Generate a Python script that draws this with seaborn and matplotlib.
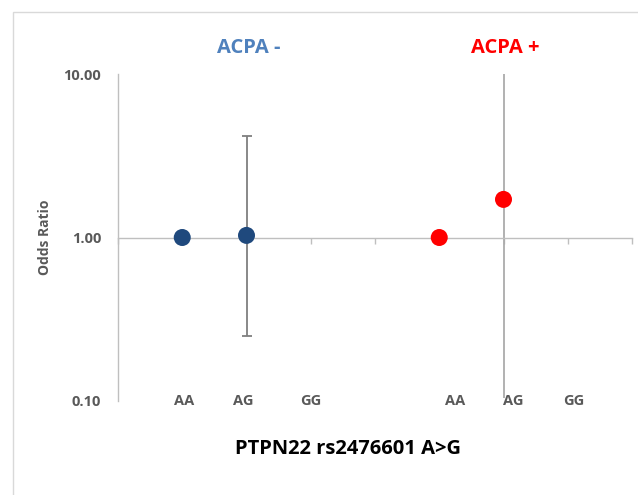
import matplotlib
matplotlib.use("Agg")
import matplotlib.pyplot as plt
from matplotlib.patches import Rectangle
import seaborn as sns
import pandas as pd
import numpy as np

# ---- data ----
groups = ["ACPA -", "ACPA -", "ACPA +", "ACPA +"]
genotypes = ["AA", "AG", "AA", "AG"]
x_pos = [1, 2, 5, 6]
odds_ratio = [1.00, 1.03, 1.00, 1.71]
ci_low = [1.00, 0.25, 1.00, 0.105]
ci_high = [1.00, 4.20, 1.00, 10.5]

cat_labels = ["AA", "AG", "GG", "AA", "AG", "GG"]
cat_label_pos = [1, 2, 3, 5, 6, 7]
y_ticks = [0.1, 1, 10]
y_tick_labels = ["0.10", "1.00", "10.00"]

df = pd.DataFrame({"group": groups, "genotype": genotypes, "x": x_pos,
                   "OR": odds_ratio, "lo": ci_low, "hi": ci_high})

sns.set_theme(style="white")
plt.rcParams["font.family"] = ["Open Sans", "DejaVu Sans"]

fig = plt.figure(figsize=(6.38, 4.95), dpi=100)
ax = fig.add_axes([118/638, 1-401/495, (632-118)/638, (401-74)/495])

# outer frame
fig.patches.append(Rectangle((13/638, -0.2), 1.2, 1.2 - 12/495,
                             transform=fig.transFigure, fill=False,
                             edgecolor="#D9D9D9", linewidth=1.0))

palette = {"ACPA -": "#1F497D", "ACPA +": "#FF0000"}
err_colors = {"ACPA -": "#7F7F7F", "ACPA +": "#ABABAB"}
caps = {"ACPA -": 3.5, "ACPA +": 0}

for _, r in df.iterrows():
    if r["hi"] > r["lo"]:
        ax.errorbar(r["x"], r["OR"], yerr=[[r["OR"] - r["lo"]], [r["hi"] - r["OR"]]],
                    fmt="none", ecolor=err_colors[r["group"]], elinewidth=1.3,
                    capsize=caps[r["group"]], capthick=1.3, zorder=2)

sns.scatterplot(data=df, x="x", y="OR", hue="group", palette=palette, s=150,
                edgecolor="none", legend=False, ax=ax, zorder=3)

ax.set_yscale("log")
ax.set_ylim(0.1, 10)
ax.set_xlim(0, 8)

ax.set_yticks(y_ticks)
ax.set_yticklabels(y_tick_labels)
ax.yaxis.set_minor_locator(matplotlib.ticker.NullLocator())
ax.tick_params(axis="y", length=0, pad=12, labelsize=10.5, labelcolor="#595959")
for t in ax.get_yticklabels():
    t.set_fontweight("bold")

ax.set_xticks(range(0, 9))
ax.set_xticklabels([])
ax.tick_params(axis="x", direction="out", length=4, width=1, color="#BFBFBF", bottom=True)

for s in ["top", "right"]:
    ax.spines[s].set_visible(False)
ax.spines["left"].set_color("#BFBFBF")
ax.spines["left"].set_linewidth(1)
ax.spines["bottom"].set_position(("data", 1))
ax.spines["bottom"].set_color("#BFBFBF")
ax.spines["bottom"].set_linewidth(1)

ax.set_xlabel("")
ax.set_ylabel("")

# category labels below plot (text boxes slightly offset from category centres)
label_shift = [0.03, -0.05, 0.0, 0.25, 0.15, 0.1]
for lab, xp, sh in zip(cat_labels, cat_label_pos, label_shift):
    ax.text(xp + sh, 0.1, lab, transform=ax.transData, ha="center", va="center",
            fontsize=10.5, fontweight="bold", color="#595959")

# group titles
fig.text(249/638, 1-48/495, "ACPA -", ha="center", va="center", fontsize=14.5,
         fontweight="bold", color="#4F81BD")
fig.text(505/638, 1-48/495, "ACPA +", ha="center", va="center", fontsize=14.5,
         fontweight="bold", color="#FF0000")

fig.text(45/638, 1-237/495, "Odds Ratio", rotation=90, ha="center", va="center",
         fontsize=10, fontweight="bold", color="#595959")
fig.text(348/638, 1-449/495, "PTPN22 rs2476601 A>G", ha="center", va="center",
         fontsize=14.5, fontweight="bold", color="black")

fig.savefig("out.png", dpi=100)
